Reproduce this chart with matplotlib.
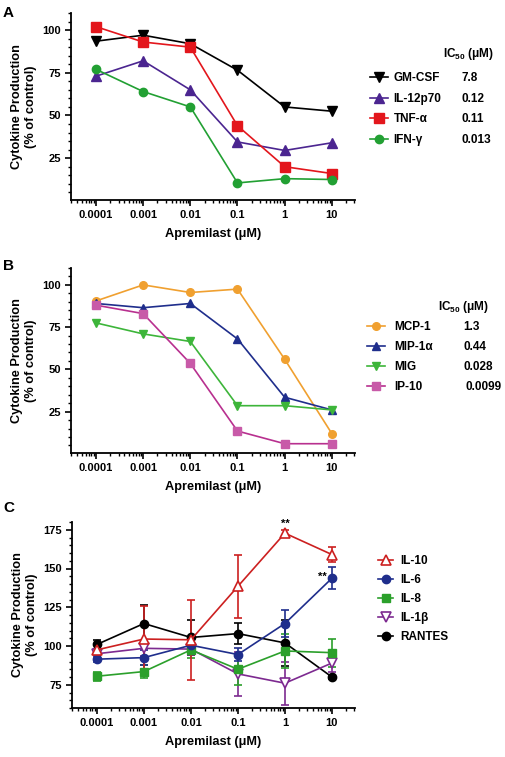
import matplotlib
matplotlib.use('Agg')
import matplotlib.pyplot as plt
import numpy as np
from matplotlib.ticker import LogLocator, MultipleLocator, NullFormatter

plt.rcParams['font.family'] = ['Liberation Sans', 'DejaVu Sans']
plt.rcParams['font.weight'] = 'bold'
plt.rcParams['mathtext.fontset'] = 'custom'
plt.rcParams['mathtext.rm'] = 'Liberation Sans:bold'
plt.rcParams['mathtext.it'] = 'Liberation Sans:bold'
plt.rcParams['mathtext.bf'] = 'Liberation Sans:bold'

conc = [0.0001, 0.001, 0.01, 0.1, 1, 10]
conc_labels = ['0.0001', '0.001', '0.01', '0.1', '1', '10']

# Panel A
a_names = ['GM-CSF', 'IL-12p70', 'TNF-α', 'IFN-γ']
a_ic50 = ['7.8', '0.12', '0.11', '0.013']
gmcsf = [93.5, 97, 92, 76.5, 55, 52.5]
il12p70 = [73, 82, 65, 34.5, 29.5, 34]
tnfa = [102, 93, 90, 44, 20, 16]
ifng = [77, 64, 55, 10.5, 13, 12.5]

# Panel B
b_names = ['MCP-1', 'MIP-1α', 'MIG', 'IP-10']
b_ic50 = ['1.3', '0.44', '0.028', '0.0099']
mcp1 = [90.5, 100, 95.5, 97.5, 56, 12]
mip1a = [89, 86.5, 89, 68, 33.5, 26]
mig = [77.5, 71, 66.5, 28.5, 28.5, 26]
ip10 = [88, 83, 53.5, 13.5, 6, 6]

# Panel C (mean, error)
c_names = ['IL-10', 'IL-6', 'IL-8', 'IL-1β', 'RANTES']
il10 = [97.5, 104.5, 104, 138.5, 172.8, 159]
il10_err = [3, 21, 26, 20.5, 2, 5]
il6 = [91.5, 92.5, 100.5, 94.5, 114.5, 143.7]
il6_err = [2, 5, 5, 4, 9, 7]
il8 = [80.5, 83.5, 97.5, 85, 96.8, 95.7]
il8_err = [3, 4, 5, 10, 11, 9]
il1b = [95, 98.5, 98, 82, 76, 89]
il1b_err = [3, 5, 4, 14, 14, 6]
rantes = [101, 114.5, 105.5, 108, 102, 80]
rantes_err = [3, 12, 11, 7, 15, 1]

W, H = 505, 757
fig = plt.figure(figsize=(W / 100, H / 100), dpi=100)
fig.patch.set_facecolor('white')


def px_axes(l, t, r, b):
    return fig.add_axes([l / W, 1 - b / H, (r - l) / W, (b - t) / H])


def style(ax, ylim, yticks):
    ax.set_xscale('log')
    ax.set_xlim(2.95e-5, 31)
    ax.set_ylim(*ylim)
    ax.set_xticks(conc)
    ax.set_xticklabels(conc_labels)
    ax.xaxis.set_minor_locator(LogLocator(base=10, subs=np.arange(2, 10), numticks=30))
    ax.xaxis.set_minor_formatter(NullFormatter())
    ax.set_yticks(yticks)
    ax.yaxis.set_minor_locator(MultipleLocator(5))
    for s in ['top', 'right']:
        ax.spines[s].set_visible(False)
    for s in ['left', 'bottom']:
        ax.spines[s].set_linewidth(1.3)
    ax.tick_params(which='major', direction='out', length=4, width=1.2, labelsize=8, pad=3)
    ax.tick_params(which='minor', direction='out', length=2.2, width=1)
    ax.set_xlabel('Apremilast (μM)', fontsize=9.2, fontweight='bold', labelpad=6)
    ax.set_ylabel('Cytokine Production\n(% of control)', fontsize=9.2, fontweight='bold',
                  linespacing=1.25, labelpad=4)


axA = px_axes(71, 13, 355, 200)
axB = px_axes(71, 268, 355, 453)
axC = px_axes(72, 522, 355, 708)

# ---- Panel A
lw = 1.2
hA = []
hA += axA.plot(conc, gmcsf, color='black', marker='v', ms=6.5, lw=lw)
hA += axA.plot(conc, il12p70, color='#4B2590', marker='^', ms=6.5, lw=lw)
hA += axA.plot(conc, tnfa, color='#E3161C', marker='s', ms=6.5, lw=lw)
hA += axA.plot(conc, ifng, color='#22A033', marker='o', ms=6, lw=lw)
style(axA, (0.5, 110), [25, 50, 75, 100])

# ---- Panel B
hB = []
hB += axB.plot(conc, mcp1, color='#F0A030', marker='o', ms=5.5, lw=lw)
hB += axB.plot(conc, mip1a, color='#1F2E8C', marker='^', ms=6, lw=lw)
hB += axB.plot(conc, mig, color='#3DB53A', marker='v', ms=6, lw=lw)
hB += axB.plot(conc, ip10, color='#B8308F', marker='s', ms=5.5, lw=lw,
               mfc='#C85AA8', mec='#C85AA8')
style(axB, (0.5, 110), [25, 50, 75, 100])

# ---- Panel C
ekw = dict(capsize=3, elinewidth=1.2, capthick=1.2, lw=lw)
cR = axC.errorbar(conc, rantes, yerr=rantes_err, color='black', marker='o', ms=6, **ekw)
cB = axC.errorbar(conc, il1b, yerr=il1b_err, color='#7D2A90', marker='v', ms=6.5,
                  mfc='white', mec='#7D2A90', mew=1.2, **ekw)
c8 = axC.errorbar(conc, il8, yerr=il8_err, color='#2BA02B', marker='s', ms=6, **ekw)
c6 = axC.errorbar(conc, il6, yerr=il6_err, color='#1F2E8C', marker='o', ms=6, **ekw)
c10 = axC.errorbar(conc, il10, yerr=il10_err, color='#CC2020', marker='^', ms=6.5,
                   mfc='white', mec='#CC2020', mew=1.2, **ekw)
style(axC, (60, 180), [75, 100, 125, 150, 175])
axC.annotate('**', (conc[4], il10[4]), xytext=(0, 3), textcoords='offset points',
             ha='center', va='bottom', fontsize=8, fontweight='bold')
axC.annotate('**', (conc[5], il6[5]), xytext=(-4, 1), textcoords='offset points',
             ha='right', va='center', fontsize=8, fontweight='bold')

# ---- Legends
legA = axA.legend(hA, a_names, loc='center left', bbox_to_anchor=(370 / W, 1 - 109 / H),
                  bbox_transform=fig.transFigure, frameon=False, fontsize=8.5,
                  handlelength=1.5, handletextpad=0.5, labelspacing=0.72,
                  borderpad=0, borderaxespad=0)
legB = axB.legend(hB, b_names, loc='center left', bbox_to_anchor=(367 / W, 1 - 357 / H),
                  bbox_transform=fig.transFigure, frameon=False, fontsize=8.5,
                  handlelength=1.5, handletextpad=0.8, labelspacing=0.68,
                  borderpad=0, borderaxespad=0)
legC = axC.legend([c10[0], c6[0], c8[0], cB[0], cR[0]], c_names, loc='center left',
                  bbox_to_anchor=(378 / W, 1 - 599 / H),
                  bbox_transform=fig.transFigure, frameon=False, fontsize=8.5,
                  handlelength=1.3, handletextpad=0.6, labelspacing=0.58,
                  borderpad=0, borderaxespad=0)

fig.text(443 / W, 1 - 54 / H, 'IC$_{50}$ (μM)', fontsize=8.5, fontweight='bold', va='center')
fig.text(438 / W, 1 - 307 / H, 'IC$_{50}$ (μM)', fontsize=8.5, fontweight='bold', va='center')

fig.canvas.draw()
for leg, vals, xs in [(legA, a_ic50, [462] * 4), (legB, b_ic50, [463, 463, 463, 465])]:
    for t, v, x in zip(leg.get_texts(), vals, xs):
        bb = t.get_window_extent()
        yc = (bb.y0 + bb.y1) / 2 / fig.bbox.height
        fig.text(x / W, yc, v, fontsize=8.5, fontweight='bold', va='center')

# Panel letters
fig.text(3 / W, 1 - 13 / H, 'A', fontsize=11, fontweight='bold', va='center')
fig.text(3 / W, 1 - 266 / H, 'B', fontsize=11, fontweight='bold', va='center')
fig.text(3 / W, 1 - 508 / H, 'C', fontsize=11, fontweight='bold', va='center')

fig.savefig('out.png', dpi=100, facecolor='white')
